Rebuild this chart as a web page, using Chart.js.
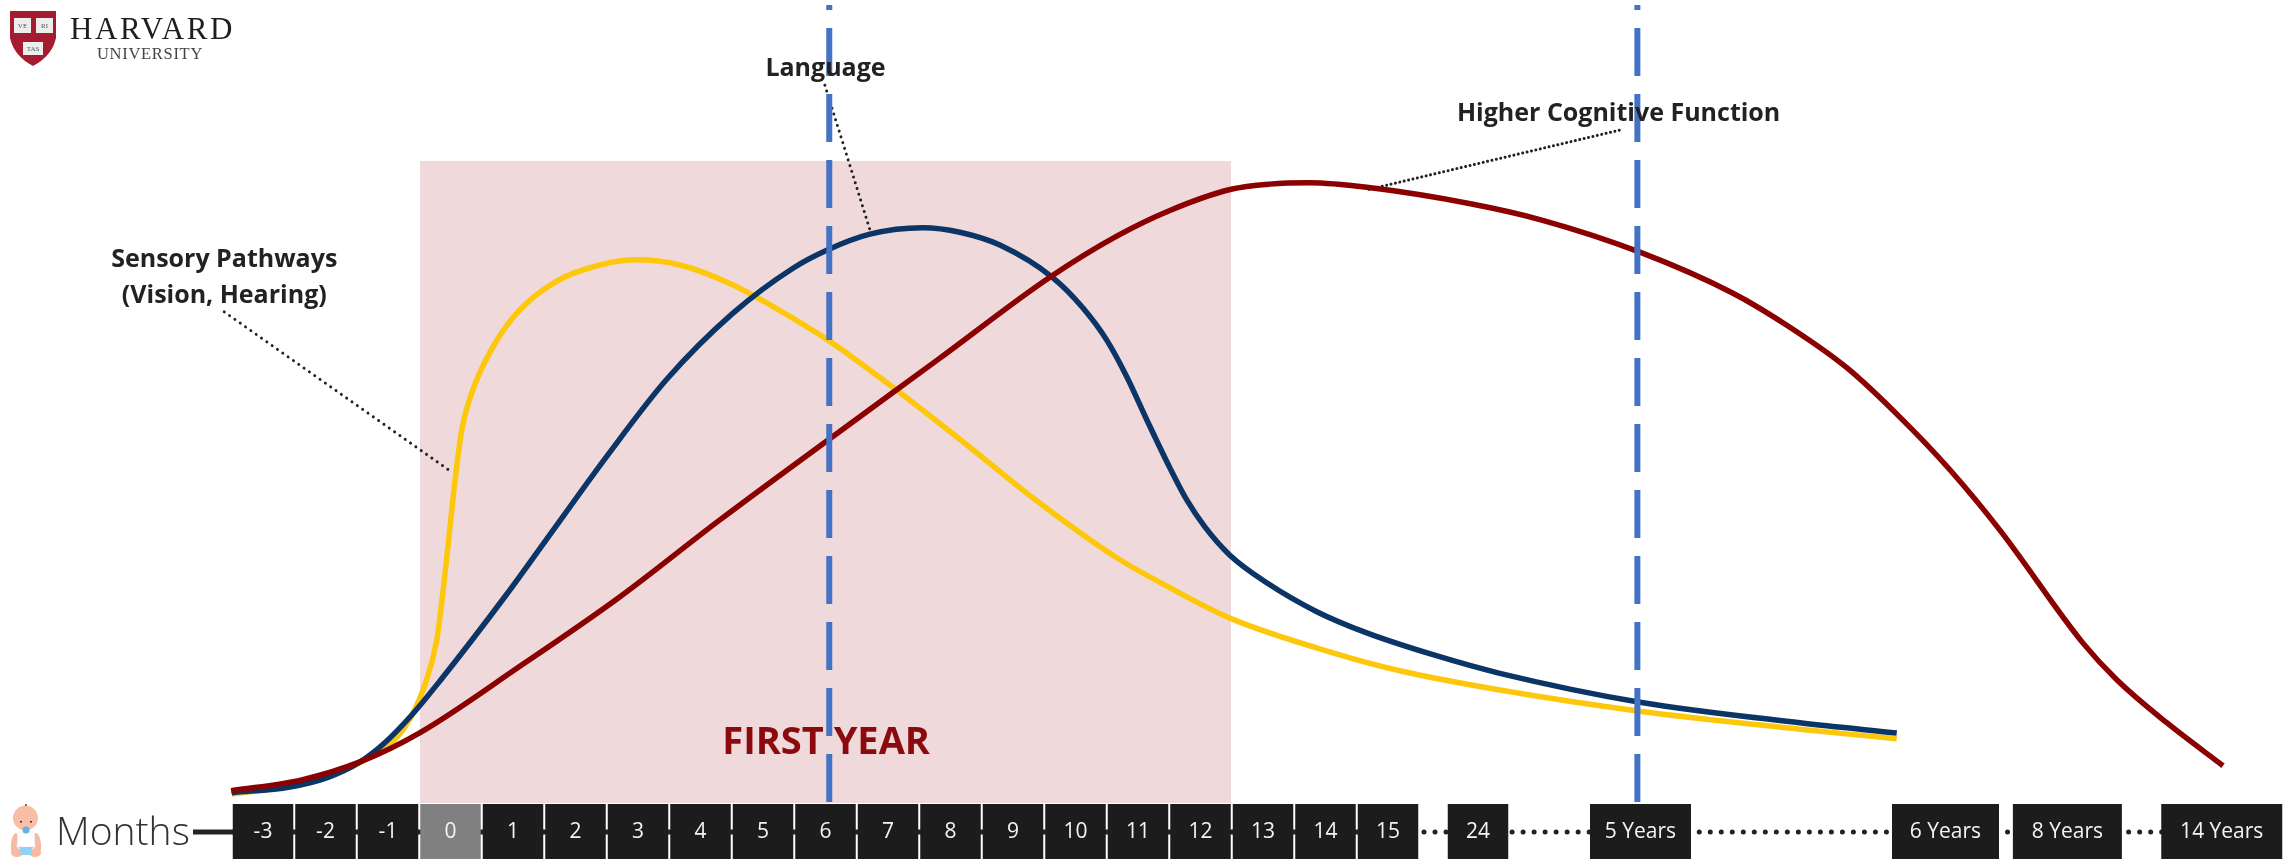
<!DOCTYPE html>
<html>
<head>
    <meta charset="UTF-8">
    <title>Brain Development</title>
    <script src="https://cdn.jsdelivr.net/npm/chart.js"></script>
    <style>
        html, body { margin: 0; padding: 0; background: #fff; }
        canvas { display: block; }
    </style>
</head>
<body>
<canvas id="chart" width="2294" height="865"></canvas>

<script>
    // x axis is in box slots (month 0 = slot 0, one month = one slot), it is not linear after 15
    var tickLabels = ['-3', '-2', '-1', '0', '1', '2', '3', '4', '5', '6', '7', '8', '9', '10', '11', '12', '13', '14', '15', '24', '5 Years', '6 Years', '8 Years', '14 Years'];
    var tickSlots = [-3, -2, -1, 0, 1, 2, 3, 4, 5, 6, 7, 8, 9, 10, 11, 12, 13, 14, 15, 16.44, 19.04, 23.92, 25.87, 28.34];

    // y is relative, 100 = top of the first year band
    var sensoryX = [-3.50, -2.41, -1.32, -0.74, -0.41, -0.22, -0.09, -0.01, 0.06, 0.18, 0.34, 0.63, 1.06, 1.70, 2.39, 2.98, 3.67, 4.52, 5.48, 6.04, 7.14, 8.26, 9.32, 10.66, 11.46, 12.47, 14.12, 15.19, 16.79, 19.03, 21.59, 23.14];
    var sensoryY = [1.4, 3.0, 7.0, 11.7, 18.4, 25.4, 35.5, 42.8, 49.2, 58.1, 63.9, 70.2, 76.3, 81.3, 83.8, 84.6, 83.8, 80.7, 75.5, 72.1, 64.3, 55.8, 47.5, 38.2, 33.8, 28.8, 23.4, 20.6, 17.6, 14.3, 11.5, 10.0];

    var languageX = [-3.50, -2.57, -1.96, -1.48, -1.06, -0.62, -0.17, 0.89, 1.62, 2.50, 3.46, 4.52, 5.48, 6.02, 6.71, 7.56, 8.15, 8.79, 9.64, 10.12, 10.50, 10.82, 11.14, 11.51, 11.78, 12.07, 12.47, 13.06, 13.86, 14.66, 15.72, 16.79, 19.03, 21.59, 23.14];
    var languageY = [1.6, 2.5, 4.0, 6.2, 9.3, 13.7, 19.0, 32.4, 42.2, 54.0, 66.0, 76.3, 83.3, 86.1, 88.6, 89.6, 88.9, 86.9, 81.8, 77.1, 72.1, 66.4, 59.7, 52.2, 47.2, 43.0, 38.6, 34.3, 29.8, 26.5, 23.1, 20.2, 15.7, 12.5, 10.9];

    var cognitiveX = [-3.51, -2.38, -1.45, -0.50, 1.11, 2.68, 4.31, 6.02, 7.83, 9.59, 10.66, 11.51, 12.49, 13.11, 13.75, 14.66, 16.34, 17.46, 19.03, 20.52, 21.43, 22.34, 23.19, 23.99, 24.79, 26.12, 26.66, 27.46, 28.36];
    var cognitiveY = [1.9, 3.6, 6.4, 10.9, 21.3, 31.9, 44.1, 56.4, 69.3, 81.9, 88.3, 92.3, 95.6, 96.4, 96.6, 95.9, 93.3, 90.8, 85.8, 79.4, 74.1, 67.8, 60.1, 51.9, 42.5, 24.9, 19.2, 12.5, 5.8];

    var bandX = [-0.49, 12.49];
    var bandY = [100, 100];

    var marker6mX = [6.06, 6.06];
    var marker5yX = [18.99, 18.99];
    var markerY = [124.3, 0];

    var leaderSensoryX = [-3.62, 0.04];
    var leaderSensoryY = [76.5, 51.4];
    var leaderLanguageX = [5.99, 6.71];
    var leaderLanguageY = [111.8, 89.3];
    var leaderCognitiveX = [18.70, 14.66];
    var leaderCognitiveY = [104.8, 95.5];

    function toPoints(xs, ys) {
        var pts = [];
        for (var i = 0; i < xs.length; i++) {
            pts.push({ x: xs[i], y: ys[i] });
        }
        return pts;
    }

    function curve(label, xs, ys, color, width, order) {
        return { label: label, data: toPoints(xs, ys), showLine: true, borderColor: color, borderWidth: width, cubicInterpolationMode: 'monotone', pointRadius: 0, fill: false, order: order };
    }

    function dotted(xs, ys, gap) {
        return { data: toPoints(xs, ys), showLine: true, borderColor: '#222', borderWidth: 3, borderDash: [0.01, gap], borderCapStyle: 'round', tension: 0, pointRadius: 0, fill: false, order: 5 };
    }

    function marker(xs) {
        return { data: toPoints(xs, markerY), showLine: true, borderColor: '#4472c4', borderWidth: 6, borderDash: [48, 18], borderDashOffset: 43, tension: 0, pointRadius: 0, fill: false, order: 1 };
    }

    function yearBoxWidth(label) {
        var w = { '5 Years': 101, '6 Years': 107, '8 Years': 109, '14 Years': 121 };
        return w[label] || 60.5;
    }

    // months strip under the chart
    var stripPlugin = {
        id: 'strip',
        beforeDatasetsDraw: function (chart) {
            var ctx = chart.ctx;
            var xs = chart.scales.x;
            var top = chart.scales.y.getPixelForValue(0) + 1;
            var boxH = 55;
            var mid = top + 28;
            var last15 = xs.getPixelForValue(15);
            var lastTick = xs.getPixelForValue(tickSlots[tickSlots.length - 1]);

            ctx.save();
            ctx.strokeStyle = '#222';
            ctx.lineWidth = 5;
            ctx.beginPath();
            ctx.moveTo(193, mid);
            ctx.lineTo(last15, mid);
            ctx.stroke();

            ctx.lineCap = 'round';
            ctx.setLineDash([0.01, 11]);
            ctx.beginPath();
            ctx.moveTo(last15 + 36, mid);
            ctx.lineTo(lastTick, mid);
            ctx.stroke();
            ctx.restore();

            ctx.save();
            ctx.textAlign = 'center';
            ctx.textBaseline = 'middle';
            ctx.font = '21px "Open Sans"';
            xs.ticks.forEach(function (tick, i) {
                var label = tickLabels[i];
                var cx = xs.getPixelForValue(tick.value);
                var w = yearBoxWidth(label);
                ctx.fillStyle = label === '0' ? '#808080' : '#1c1c1c';
                ctx.fillRect(cx - w / 2, top, w, boxH);
                ctx.fillStyle = '#f4f4f4';
                ctx.fillText(label, cx, top + 28);
            });
            ctx.restore();

            ctx.save();
            ctx.fillStyle = '#333';
            ctx.font = '300 39px "Open Sans"';
            ctx.textBaseline = 'alphabetic';
            ctx.fillText('Months', 56, 845);
            ctx.restore();

            drawBaby(ctx);
            drawLogo(ctx);
        },
        afterDatasetsDraw: function (chart) {
            var ctx = chart.ctx;
            var xs = chart.scales.x;
            var ys = chart.scales.y;

            function put(text, x, y) {
                ctx.fillText(text, xs.getPixelForValue(x), ys.getPixelForValue(y));
            }

            ctx.save();
            ctx.textAlign = 'center';
            ctx.textBaseline = 'alphabetic';
            ctx.fillStyle = '#222';
            ctx.font = '700 25px "Open Sans"';
            put('Sensory Pathways', -3.62, 83.5);
            put('(Vision, Hearing)', -3.62, 77.9);
            put('Language', 6.0, 113.2);
            put('Higher Cognitive Function', 18.69, 106.2);
            ctx.fillStyle = '#8b0a0e';
            ctx.font = '700 38px "Open Sans"';
            put('FIRST YEAR', 6.01, 7.6);
            ctx.restore();
        }
    };

    function drawBaby(ctx) {
        ctx.save();
        ctx.fillStyle = '#f7b9a0';
        // arms and legs
        ctx.beginPath(); ctx.ellipse(15, 844, 4, 11, 0.1, 0, Math.PI * 2); ctx.fill();
        ctx.beginPath(); ctx.ellipse(37, 844, 4, 11, -0.1, 0, Math.PI * 2); ctx.fill();
        ctx.beginPath(); ctx.ellipse(17, 853, 6, 4, 0, 0, Math.PI * 2); ctx.fill();
        ctx.beginPath(); ctx.ellipse(35, 853, 6, 4, 0, 0, Math.PI * 2); ctx.fill();
        // shirt
        ctx.fillStyle = '#fff';
        ctx.strokeStyle = '#eee';
        ctx.beginPath(); ctx.moveTo(18, 832); ctx.lineTo(34, 832); ctx.lineTo(35, 847); ctx.lineTo(17, 847); ctx.closePath(); ctx.fill(); ctx.stroke();
        // diaper
        ctx.fillStyle = '#8fd3f4';
        ctx.beginPath(); ctx.moveTo(19, 847); ctx.lineTo(33, 847); ctx.lineTo(31, 855); ctx.lineTo(21, 855); ctx.closePath(); ctx.fill();
        // head
        ctx.fillStyle = '#f9bea6';
        ctx.beginPath(); ctx.arc(25.5, 818, 12.5, 0, Math.PI * 2); ctx.fill();
        ctx.fillStyle = '#333';
        ctx.fillRect(20, 821, 2, 1.5);
        ctx.fillRect(30, 821, 2, 1.5);
        ctx.fillStyle = '#c0584a';
        ctx.fillRect(25, 804, 2, 2);
        // pacifier
        ctx.fillStyle = '#5fb6e6';
        ctx.beginPath(); ctx.arc(26, 830, 3.5, 0, Math.PI * 2); ctx.fill();
        ctx.restore();
    }

    function drawLogo(ctx) {
        ctx.save();
        ctx.fillStyle = '#a51c30';
        ctx.beginPath();
        ctx.moveTo(10, 11);
        ctx.lineTo(56, 11);
        ctx.lineTo(56, 38);
        ctx.quadraticCurveTo(52, 56, 33, 66);
        ctx.quadraticCurveTo(14, 56, 10, 38);
        ctx.closePath();
        ctx.fill();

        ctx.fillStyle = '#eee';
        ctx.fillRect(14, 18, 17, 15);
        ctx.fillRect(36, 18, 17, 15);
        ctx.fillRect(23, 42, 20, 13);
        ctx.fillStyle = '#555';
        ctx.textAlign = 'center';
        ctx.textBaseline = 'middle';
        ctx.font = '7px "Liberation Serif"';
        ctx.fillText('VE', 22.5, 26);
        ctx.fillText('RI', 44.5, 26);
        ctx.fillText('TAS', 33, 49);

        ctx.fillStyle = '#1e1e1e';
        ctx.textAlign = 'left';
        ctx.textBaseline = 'alphabetic';
        ctx.font = '31px "Liberation Serif"';
        ctx.letterSpacing = '2.6px';
        ctx.fillText('HARVARD', 70, 39);
        ctx.fillStyle = '#444';
        ctx.font = '16.5px "Liberation Serif"';
        ctx.letterSpacing = '0.7px';
        ctx.fillText('UNIVERSITY', 97, 59);
        ctx.restore();
    }

    var ctx = document.getElementById('chart').getContext('2d');
    var chart = new Chart(ctx, {
        type: 'scatter',
        data: {
            datasets: [
                { data: toPoints(bandX, bandY), showLine: true, borderWidth: 0, backgroundColor: '#f0d9da', fill: 'origin', tension: 0, pointRadius: 0, order: 10 },
                dotted(leaderSensoryX, leaderSensoryY, 6.5),
                dotted(leaderLanguageX, leaderLanguageY, 6),
                dotted(leaderCognitiveX, leaderCognitiveY, 4.5),
                curve('Sensory Pathways', sensoryX, sensoryY, '#fdc70c', 5.5, 4),
                curve('Language', languageX, languageY, '#0a3566', 5.5, 3),
                curve('Higher Cognitive Function', cognitiveX, cognitiveY, '#8b0000', 5.5, 2),
                marker(marker6mX),
                marker(marker5yX)
            ]
        },
        options: {
            responsive: false,
            animation: false,
            layout: { padding: 0 },
            plugins: {
                legend: { display: false },
                tooltip: { enabled: false }
            },
            scales: {
                x: {
                    type: 'linear',
                    display: false,
                    min: -7.208,
                    max: 29.496,
                    afterBuildTicks: function (scale) {
                        scale.ticks = tickSlots.map(function (v) { return { value: v }; });
                    }
                },
                y: {
                    type: 'linear',
                    display: false,
                    min: -9.66,
                    max: 125.08
                }
            }
        },
        plugins: [stripPlugin]
    });
</script>
</body>
</html>
